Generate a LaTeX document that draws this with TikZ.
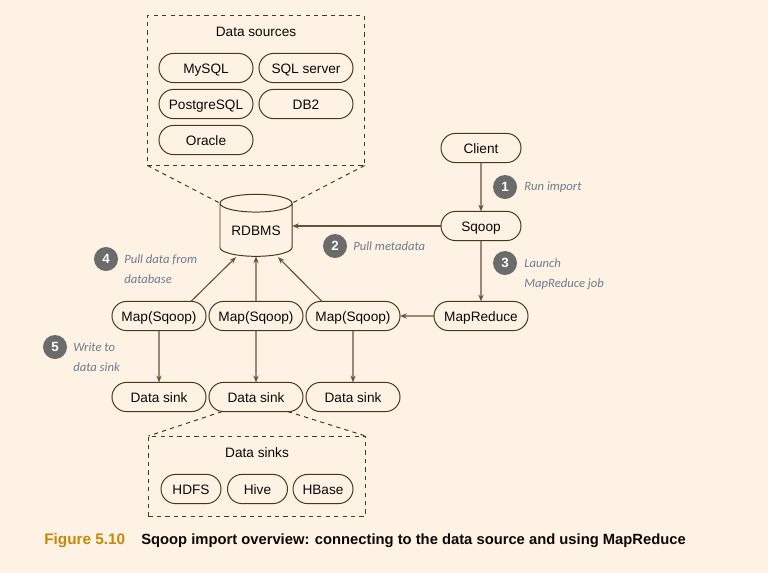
\documentclass[tikz,border=0pt]{standalone}
\usepackage{fontspec}
\setmainfont{Liberation Sans}
\newfontfamily\notefont{Carlito}
\usetikzlibrary{positioning,arrows.meta,shapes.geometric,shapes.misc,calc}
\definecolor{pagebg}{HTML}{FEF2E4}
\definecolor{inkbrown}{HTML}{4A3520}
\definecolor{linebrown}{HTML}{66523C}
\definecolor{notegray}{HTML}{6E7C8C}
\definecolor{stepgray}{HTML}{6B6B6B}
\definecolor{figgold}{HTML}{C48A08}
\tikzset{
  pill/.style={draw=inkbrown, rounded rectangle, outer sep=0pt, inner sep=0pt,
    line width=0.7pt, minimum width=2.35cm, minimum height=0.73cm, text=black!85!inkbrown,
    text height=8.4pt, text depth=0.6pt},
  smallpill/.style={pill, minimum width=1.5cm},
  store/.style={draw=inkbrown, line width=0.7pt, cylinder, shape border rotate=90, aspect=0.36,
    outer sep=0pt, inner sep=0pt, minimum width=1.8cm, minimum height=1.55cm, text=black!85!inkbrown,
    text height=8.4pt, text depth=0.6pt},
  group/.style={draw=inkbrown, dashed, line width=0.7pt, outer sep=0pt, inner sep=0pt},
  arr/.style={-{Stealth[length=1.7mm,width=1.3mm]}, line width=0.8pt, linebrown},
  fan/.style={dashed, line width=0.7pt, inkbrown},
  heading/.style={text=black!85!inkbrown, text height=8.4pt, text depth=0.6pt},
  num/.style={circle, fill=stepgray, text=white, inner sep=0pt, minimum size=0.6cm, font=\fontsize{9.5}{11}\selectfont\bfseries},
  note/.style={text=notegray, align=left, anchor=west, inner sep=0pt, font=\notefont\itshape\fontsize{9}{14.2}\selectfont},
  figcap/.style={anchor=west, inner sep=0pt, font=\fontsize{10.5}{12}\selectfont\bfseries},
}
\begin{document}
\begin{tikzpicture}[x=0.025cm,y=-0.025cm,font=\fontsize{9.7}{11.6}\selectfont]
    \useasboundingbox[fill=pagebg] (0,0) rectangle (768,573);
    \node[group, minimum width=5.425cm, minimum height=3.75cm] (srcbox) at (256,90.5) {};
    \node[heading] (srctitle) at (256,31) {Data sources};
    \node[pill] (mysql) at (206,68) {MySQL};
    \node[pill] (sqlserver) at (306,68) {SQL server};
    \node[pill] (postgres) at (206,104) {PostgreSQL};
    \node[pill] (db2) at (306,104) {DB2};
    \node[pill] (oracle) at (206,140) {Oracle};
    \node[store] (rdbms) at (256,230) {RDBMS};
    \node[pill, minimum width=2cm] (client) at (481,148) {Client};
    \node[pill, minimum width=2cm] (sqoop) at (481,226) {Sqoop};
    \node[pill] (mapreduce) at (481,316) {MapReduce};
    \node[pill] (mapa) at (159,316) {Map(Sqoop)};
    \node[pill] (mapb) at (256,316) {Map(Sqoop)};
    \node[pill] (mapc) at (353,316) {Map(Sqoop)};
    \node[pill] (sinka) at (159,397) {Data sink};
    \node[pill] (sinkb) at (256,397) {Data sink};
    \node[pill] (sinkc) at (353,397) {Data sink};
    \node[group, minimum width=5.425cm, minimum height=2cm] (sinkbox) at (257,476) {};
    \node[heading] (sinktitle) at (257,452) {Data sinks};
    \node[smallpill] (hdfs) at (191,489) {HDFS};
    \node[smallpill] (hive) at (257.5,489) {Hive};
    \node[smallpill] (hbase) at (323,489) {HBase};
    \node[num] (one) at (505,187) {1};
    \node[note, anchor=west] (onetxt) at (524,187) {Run import};
    \node[num] (two) at (335,246) {2};
    \node[note, anchor=west] (twotxt) at (353,246) {Pull metadata};
    \node[num] (three) at (505,263) {3};
    \node[note, anchor=north west] (threetxt) at (524,258) {Launch\\MapReduce job};
    \node[num] (four) at (106,259) {4};
    \node[note, anchor=north west] (fourtxt) at (124,254) {Pull data from\\database};
    \node[num] (five) at (55,347) {5};
    \node[note, anchor=north west] (fivetxt) at (73,343) {Write to\\data sink};
    \node[figcap, text=figgold, font=\fontsize{10.9}{12}\selectfont\bfseries] (fignum) at (44,541) {Figure 5.10};
    \node[figcap, text=black!85!inkbrown] (figtxt) at (141,541) {Sqoop import overview: connecting to the data source and using MapReduce};
    \draw[arr] (client) -- (sqoop);
    \draw[arr] (sqoop) -- (sqoop -| rdbms.east);
    \draw[arr] (sqoop) -- (mapreduce);
    \draw[arr] (mapreduce) -- (mapc);
    \draw[arr] ([xshift=0.8cm]mapa.north) -- ([xshift=-0.5cm,yshift=-0.02cm]rdbms.south);
    \draw[arr] (mapb) -- (rdbms.south);
    \draw[arr] ([xshift=-0.775cm]mapc.north) -- ([xshift=0.55cm,yshift=-0.02cm]rdbms.south);
    \draw[arr] (mapa) -- (sinka);
    \draw[arr] (mapb) -- (sinkb);
    \draw[arr] (mapc) -- (sinkc);
    \draw[fan] (srcbox.south west) -- (rdbms.before top);
    \draw[fan] (srcbox.south east) -- (rdbms.after top);
    \draw[fan] ([xshift=-0.85cm]sinkb.south) -- (sinkbox.north west);
    \draw[fan] ([xshift=0.8cm]sinkb.south) -- (sinkbox.north east);
  \end{tikzpicture}
\end{document}
